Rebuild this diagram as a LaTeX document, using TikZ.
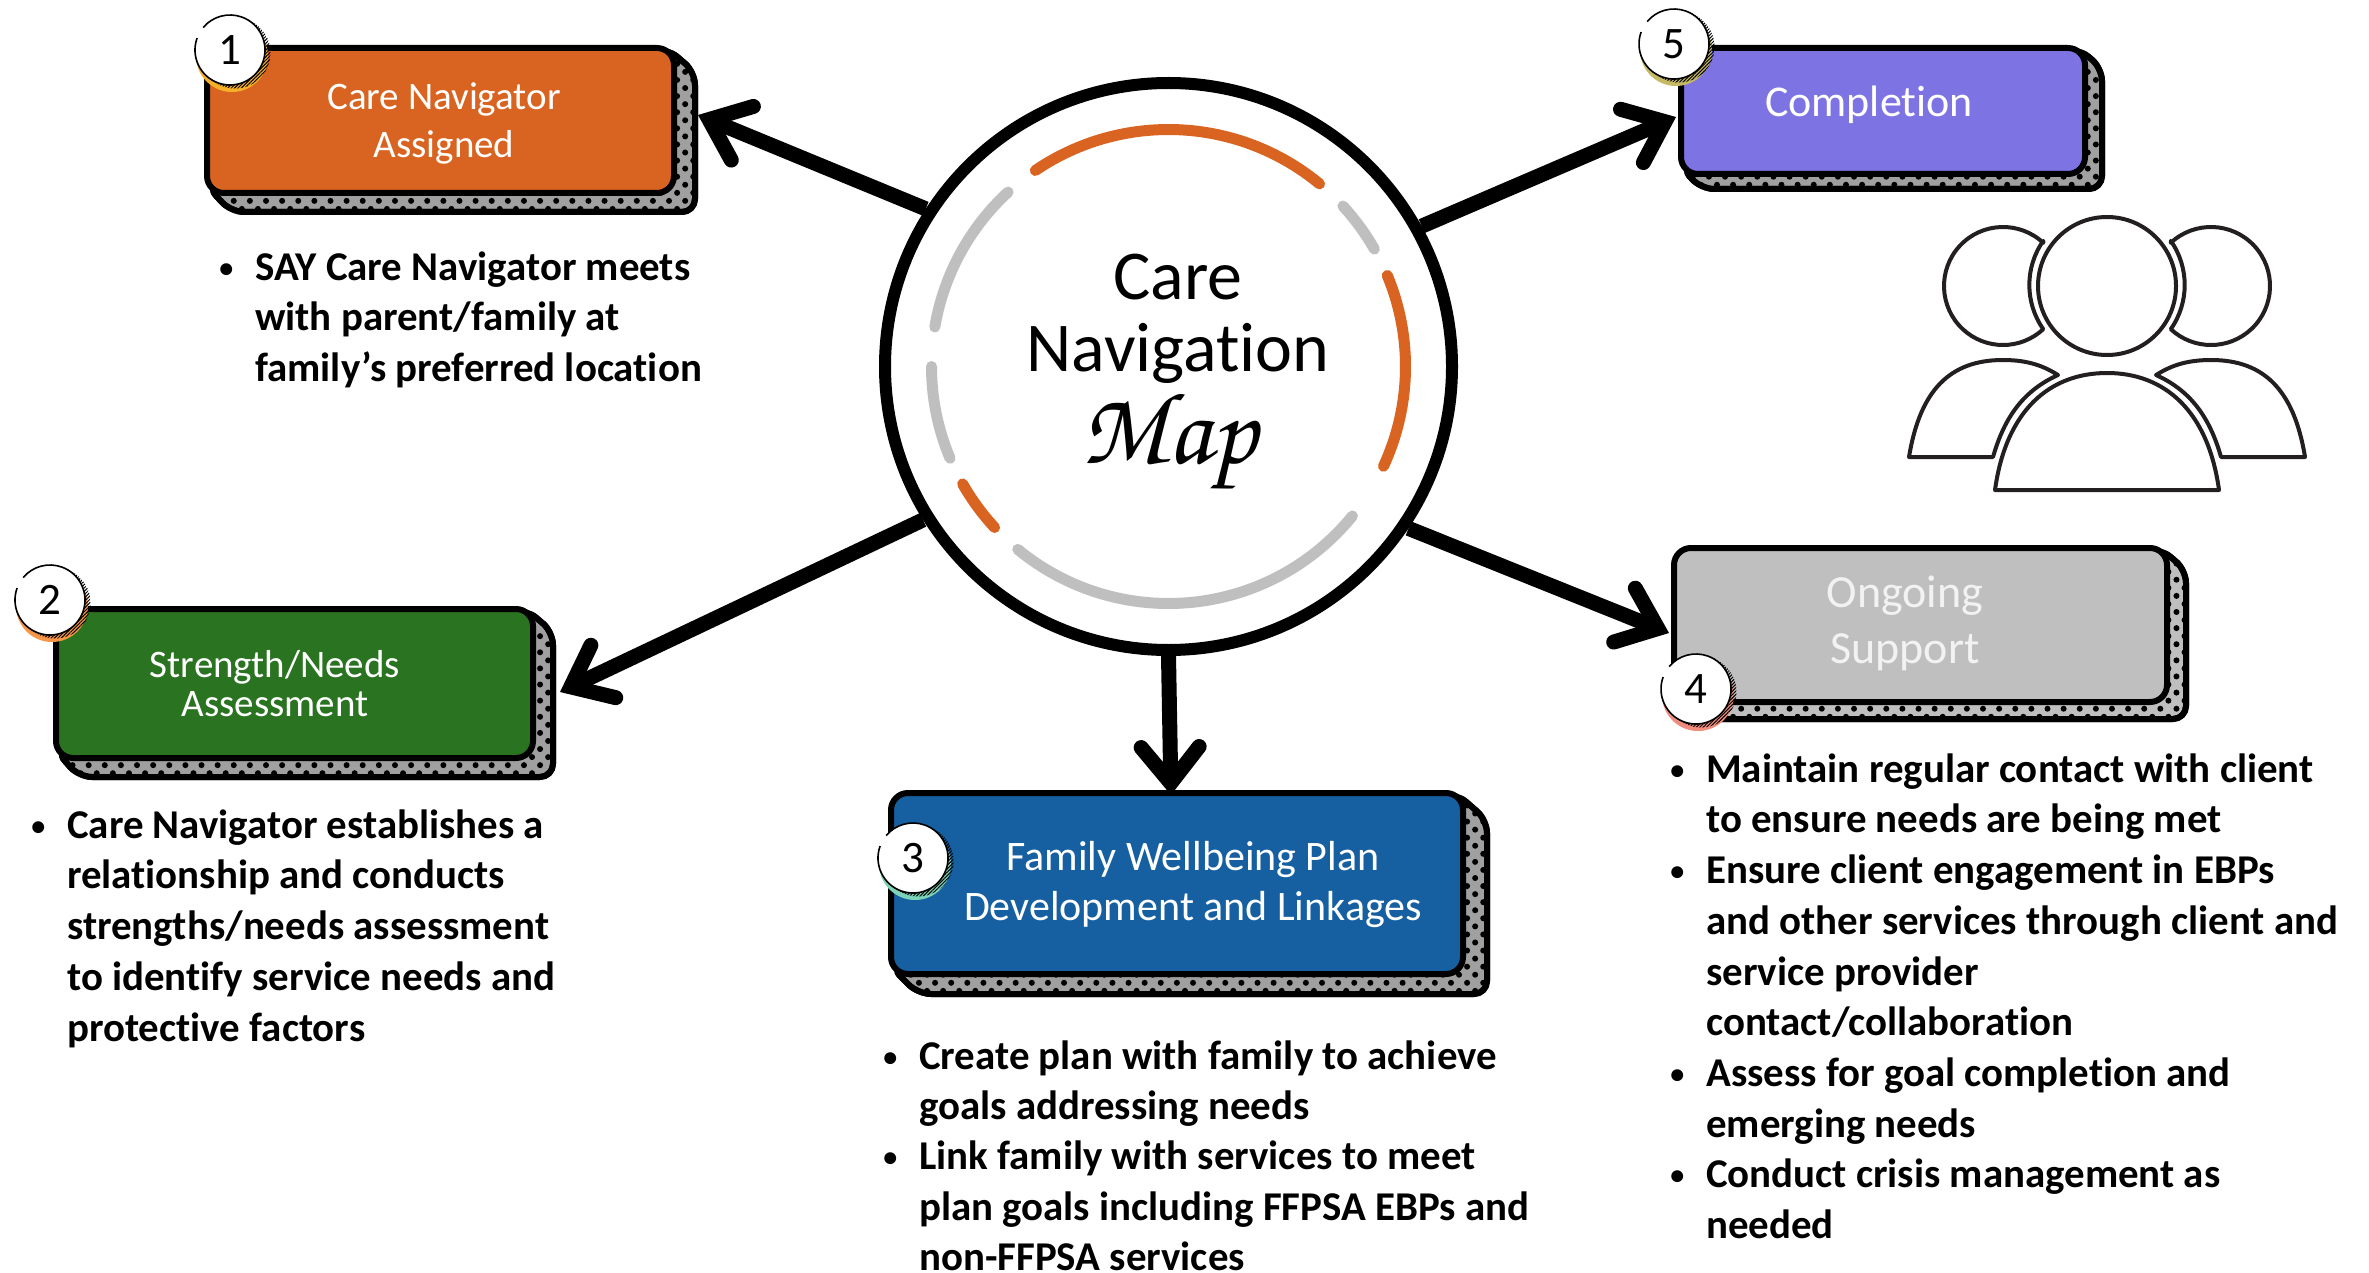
\documentclass[tikz,border=0pt]{standalone}
\usepackage{fontspec}
\setmainfont[Ligatures=NoCommon]{Carlito}
\usetikzlibrary{arrows.meta,patterns.meta,calc}
\definecolor{corange}{HTML}{D96320}
\definecolor{cgreen}{HTML}{2A7320}
\definecolor{cblue}{HTML}{165FA1}
\definecolor{cpurple}{HTML}{7E73E3}
\definecolor{cgrey}{HTML}{BFBFBF}
\definecolor{cshade}{HTML}{A0A0A0}
\definecolor{iconink}{HTML}{231F20}
\definecolor{ongoingtext}{HTML}{F2F2F2}
\definecolor{cbadgeA}{HTML}{F5B027}
\definecolor{cbadgeB}{HTML}{F79646}
\definecolor{cbadgeC}{HTML}{7DD3B8}
\definecolor{cbadgeD}{HTML}{F08C7C}
\definecolor{cbadgeE}{HTML}{C6B964}
\newcommand{\firstline}{\rule{0pt}{40pt}}
\newcommand{\bul}{\llap{\raisebox{3pt}{\fontsize{28}{28}\selectfont •}\hspace{22pt}}}
\newcommand{\scriptmap}{\fontencoding{OT1}\fontfamily{pzc}\fontseries{mb}\fontshape{it}\fontsize{103}{103}\selectfont}
% name x1 y1 x2 y2 shadowright shadowbottom fill shadowfill
\newcommand{\card}[9]{%
  \draw[shadowshape,fill=#9] (#4-10,#3+3) -- (#6-3,#3+#6-#4+6) -- (#6-3,#7-3) -- (#2+#6-#4+6,#7-3) -- (#2+3,#5-10) -- cycle;
  \draw[shadowshape,pattern={Dots[distance=11.4pt,angle=45,radius=3pt]},pattern color=black,draw=none] (#4-10,#3+3) -- (#6-3,#3+#6-#4+6) -- (#6-3,#7-3) -- (#2+#6-#4+6,#7-3) -- (#2+3,#5-10) -- cycle;
  \draw[shadowshape] (#4-10,#3+3) -- (#6-3,#3+#6-#4+6) -- (#6-3,#7-3) -- (#2+#6-#4+6,#7-3) -- (#2+3,#5-10) -- cycle;
  \pgfmathsetmacro{\cw}{#4-#2-6}\pgfmathsetmacro{\ch}{#5-#3-6}
  \node[cardface,fill=#8,minimum width=\cw pt,minimum height=\ch pt] (#1) at ({(#2+#4)/2},{(#3+#5)/2}) {};
}
% name cx cy colour number
\newcommand{\badge}[5]{%
  \fill[#4] (#2+2,#3+6) circle[radius=36pt];
  \fill[pattern={Lines[angle=45,distance=2.4pt,line width=1pt]},pattern color=black] (#2+5,#3+3) circle[radius=35.5pt];
  \node[badgeface] (#1) at (#2,#3) {#5};
  \draw[line width=1.6pt] ([shift={(160:35pt)}]#1.center) arc[start angle=160,end angle=500,radius=35pt];
}
\newcommand{\hubarc}[3]{\draw[line width=11pt,line cap=round,#1] ([shift={(#2:237pt)}]hub.center) arc[start angle=#2,end angle=#3,radius=237pt];}
\tikzset{
  shadowshape/.style={line width=6pt,rounded corners=13pt,line join=round},
  cardface/.style={draw=black,line width=6pt,rounded corners=17pt,inner sep=0pt},
  badgeface/.style={circle,fill=white,minimum size=70pt,inner sep=0pt,text depth=0pt,font=\fontsize{45}{45}\selectfont},
  conn/.style={line width=15pt,-{Straight Barb[length=36pt 0 0,width=58pt 0 0,line cap=round,line join=miter]}},
  lbl/.style={anchor=north,inner sep=0pt,align=center,text=white},
  bulletblock/.style={anchor=north west,inner sep=0pt,align=left,font=\fontsize{40.9}{50.7}\selectfont\bfseries},
  person/.style={line width=4pt,draw=iconink,line join=round},
}
\begin{document}
\begin{tikzpicture}[x=1pt,y=-1pt]
\useasboundingbox (0,0) rectangle (2369,1273);
\card{b1}{204}{45}{677}{196}{698}{215}{corange}{cshade}
\card{b2}{53}{606}{536}{761}{556}{780}{cgreen}{cshade}
\card{b3}{888}{790}{1466}{977}{1490}{997}{cblue}{cshade}
\card{b4}{1671}{545}{2170}{705}{2189}{722}{cgrey}{cgrey}
\card{b5}{1678}{45}{2088}{177}{2105}{192}{cpurple}{cshade}
% hub
\node[circle,draw=black,line width=12pt,fill=white,minimum size=567pt,inner sep=0pt] (hub) at (1168.5,366.5) {};
\hubarc{corange}{124.2}{50.4}
\hubarc{cgrey}{42.6}{29.7}
\hubarc{corange}{22.6}{-24.9}
\hubarc{cgrey}{-39.1}{-129.5}
\hubarc{corange}{-137.2}{-150.3}
\hubarc{cgrey}{-157.2}{-180}
\hubarc{cgrey}{170.4}{132.6}
\node[anchor=north,inner sep=0pt,align=center,font=\fontsize{70}{72}\selectfont] (title) at (1178,254) {\firstline Care\\Navigation};
\node[anchor=base,inner sep=0pt,font=\scriptmap] (map) at (1169,463) {Map};
% connectors
\coordinate (t1) at (698,115);
\coordinate (t2) at (560,692);
\coordinate (t3) at (1171,795);
\coordinate (t4) at (1669,633);
\coordinate (t5) at (1676,117);
\draw[conn] (hub.147) -- (t1);
\draw[conn] (hub.212.6) -- (t2);
\draw[conn] (hub.-90.5) -- (t3);
\draw[conn] (hub.-34.5) -- (t4);
\draw[conn] (hub.29.8) -- (t5);
% badges
\badge{n1}{230}{50}{cbadgeA}{1}
\badge{n2}{50}{600}{cbadgeB}{2}
\badge{n3}{913}{858}{cbadgeC}{3}
\badge{n4}{1696}{689}{cbadgeD}{4}
\badge{n5}{1674}{44}{cbadgeE}{5}
% card labels
\node[lbl,font=\fontsize{39}{48}\selectfont] (l1) at (444,69) {\firstline Care Navigator\\Assigned};
\node[lbl,font=\fontsize{39}{39}\selectfont] (l2) at (275,637) {\firstline Strength/Needs\\Assessment};
\node[lbl,font=\fontsize{42}{50}\selectfont] (l3) at (1193,830) {\firstline Family Wellbeing Plan\\Development and Linkages};
\node[lbl,font=\fontsize{46}{56}\selectfont,text=ongoingtext] (l4) at (1905,567) {\firstline Ongoing\\Support};
\node[lbl,font=\fontsize{44}{48}\selectfont] (l5) at (1869,76) {\firstline Completion};
% bullet blocks
\node[bulletblock] (t-one) at (255,240) {\firstline\bul SAY Care Navigator meets\\with parent/family at\\family’s preferred location};
\node[bulletblock] (t-two) at (67,798) {\firstline\bul Care Navigator establishes a\\relationship and conducts\\strengths/needs assessment\\to identify service needs and\\protective factors};
\node[bulletblock,font=\fontsize{40.9}{50.3}\selectfont\bfseries] (t-three) at (919,1029) {\firstline\bul Create plan with family to achieve\\goals addressing needs\\\bul Link family with services to meet\\plan goals including FFPSA EBPs and\\non-FFPSA services};
\node[bulletblock] (t-four) at (1706,742) {\firstline\bul Maintain regular contact with client\\to ensure needs are being met\\\bul Ensure client engagement in EBPs\\and other services through client and\\service provider\\contact/collaboration\\\bul Assess for goal completion and\\emerging needs\\\bul Conduct crisis management as\\needed};
% people icon
\draw[person] (2107,286) circle[radius=69pt];
\draw[person] ([shift={(47:59pt)}]2003,286) arc[start angle=47,end angle=313,radius=59pt] arc[start angle=215,end angle=145,radius=77pt] -- cycle;
\draw[person] ([shift={(133:59pt)}]2211,286) arc[start angle=133,end angle=-133,radius=59pt] arc[start angle=-35,end angle=35,radius=77pt] -- cycle;
\draw[person] (1995,490) .. controls (2006,410) and (2050,373) .. (2107,373) .. controls (2164,373) and (2208,410) .. (2219,490) -- cycle;
\draw[person] (1909,457) .. controls (1920,390) and (1950,360) .. (2003,360) .. controls (2030,360) and (2045,367) .. (2058,375) .. controls (2025,390) and (2005,415) .. (1993,457) -- cycle;
\draw[person] (2305,457) .. controls (2294,390) and (2264,360) .. (2211,360) .. controls (2184,360) and (2169,367) .. (2156,375) .. controls (2189,390) and (2209,415) .. (2221,457) -- cycle;
\end{tikzpicture}
\end{document}
